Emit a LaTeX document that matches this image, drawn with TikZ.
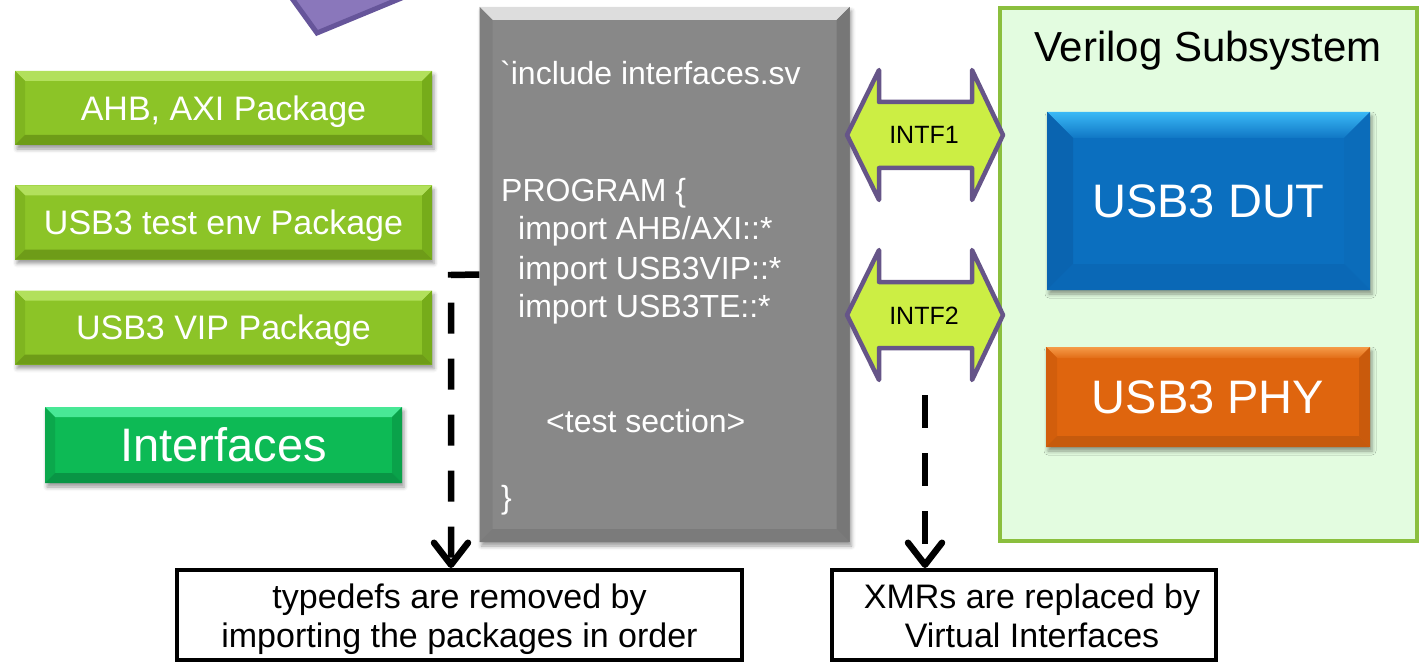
\documentclass[tikz,border=0pt]{standalone}
\usepackage{fontspec}
\newfontfamily\arial{Liberation Sans}
\usetikzlibrary{calc,arrows.meta,shadows.blur}

% palette
\definecolor{pkgBody}{HTML}{8CC427}
\definecolor{pkgTop}{HTML}{B2E05C}
\definecolor{pkgLeft}{HTML}{7FB520}
\definecolor{pkgRight}{HTML}{76AC1A}
\definecolor{pkgBottom}{HTML}{6E9C18}
\definecolor{ifBody}{HTML}{0DBA55}
\definecolor{ifTop}{HTML}{48E896}
\definecolor{ifLeft}{HTML}{0BA84C}
\definecolor{ifRight}{HTML}{0AA24A}
\definecolor{ifBottom}{HTML}{099545}
\definecolor{greyBody}{HTML}{888888}
\definecolor{greyTop}{HTML}{DDDDDD}
\definecolor{greyLeft}{HTML}{7F7F7F}
\definecolor{greyRight}{HTML}{777777}
\definecolor{greyBottom}{HTML}{7B7B7B}
\definecolor{dutBody}{HTML}{0B6FBF}
\definecolor{dutTop}{HTML}{3AB9F6}
\definecolor{dutLeft}{HTML}{0A64B0}
\definecolor{dutRight}{HTML}{0B6CBA}
\definecolor{dutBottom}{HTML}{0A68B6}
\definecolor{phyBody}{HTML}{DF650E}
\definecolor{phyTop}{HTML}{F59B48}
\definecolor{phyLeft}{HTML}{D25E0C}
\definecolor{phyRight}{HTML}{C95A0C}
\definecolor{phyBottom}{HTML}{C65A0D}
\definecolor{verFill}{HTML}{E3FCE0}
\definecolor{verEdge}{HTML}{8BBF3E}
\definecolor{intfFill}{HTML}{CCEE44}
\definecolor{intfEdge}{HTML}{665588}
\definecolor{purpleBody}{HTML}{8A77BB}
\definecolor{purpleEdge}{HTML}{66559A}

% bevelled edges painted inside a node: width, then top/left/right/bottom fill options
\newcommand\bevelpaint[5]{%
  \path (path picture bounding box.south west) coordinate (bvSW)
        (path picture bounding box.north east) coordinate (bvNE)
        (bvSW|-bvNE) coordinate (bvNW)
        (bvNE|-bvSW) coordinate (bvSE);
  \path[#2] (bvNW) -- (bvNE) -- ($(bvNE)+(-#1,-#1)$) -- ($(bvNW)+(#1,-#1)$) -- cycle;
  \path[#3] (bvNW) -- (bvSW) -- ($(bvSW)+(#1,#1)$) -- ($(bvNW)+(#1,-#1)$) -- cycle;
  \path[#4] (bvNE) -- (bvSE) -- ($(bvSE)+(-#1,#1)$) -- ($(bvNE)+(-#1,-#1)$) -- cycle;
  \path[#5] (bvSW) -- (bvSE) -- ($(bvSE)+(-#1,#1)$) -- ($(bvSW)+(#1,#1)$) -- cycle;
}

\tikzset{
  softshadow/.style={blur shadow={shadow xshift=2pt, shadow yshift=-4pt,
      shadow blur radius=4pt, shadow opacity=40}},
  slab/.style={rectangle, inner sep=0pt, softshadow, text=white},
  pkg/.style={slab, fill=pkgBody, minimum width=417pt, minimum height=74pt,
      text height=24.5pt, text depth=0pt,
      font=\arial\fontsize{34pt}{40pt}\selectfont,
      path picture={\bevelpaint{10pt}{fill=pkgTop}{fill=pkgLeft}{fill=pkgRight}{fill=pkgBottom}}},
  ifbox/.style={slab, fill=ifBody, minimum width=357pt, minimum height=76pt,
      font=\arial\fontsize{47pt}{54pt}\selectfont,
      path picture={\bevelpaint{10pt}{fill=ifTop}{fill=ifLeft}{fill=ifRight}{fill=ifBottom}}},
  progbox/.style={slab, fill=greyBody, minimum width=370pt, minimum height=535pt,
      path picture={\bevelpaint{13pt}{fill=greyTop}{fill=greyLeft}{fill=greyRight}{fill=greyBottom}}},
  code/.style={anchor=base west, inner sep=0pt, text=white,
      font=\arial\fontsize{32pt}{38pt}\selectfont},
  subsys/.style={rectangle, draw=verEdge, line width=4pt, fill=verFill,
      minimum width=417pt, minimum height=533pt},
  dut/.style={slab, fill=dutBody, minimum width=323pt, minimum height=178pt,
      font=\arial\fontsize{47pt}{54pt}\selectfont,
      path picture={\bevelpaint{26pt}{top color=dutTop,bottom color=dutBody!90!dutTop}{fill=dutLeft}{fill=dutRight}{fill=dutBottom}}},
  phy/.style={slab, fill=phyBody, minimum width=324pt, minimum height=100pt,
      font=\arial\fontsize{47pt}{54pt}\selectfont,
      path picture={\bevelpaint{11pt}{top color=phyTop,bottom color=phyBody!85!phyTop}{fill=phyLeft}{fill=phyRight}{fill=phyBottom}}},
  note/.style={rectangle, draw=black, line width=4pt, fill=white, align=center,
      minimum height=90pt, inner sep=0pt,
      font=\arial\fontsize{34pt}{39pt}\selectfont},
  notetext/.style={anchor=base, inner sep=0pt, align=center,
      font=\arial\fontsize{34pt}{39pt}\selectfont},
  intflabel/.style={inner sep=0pt, font=\arial\fontsize{25pt}{30pt}\selectfont},
  intfshape/.pic={
    \draw[fill=intfFill, draw=intfEdge, line width=4.5pt, line join=round]
      (-78,0) -- (-46,-65) -- (-46,-33) -- (47,-33) -- (47,-65) -- (78,0)
      -- (47,65) -- (47,33) -- (-46,33) -- (-46,65) -- cycle;
  },
  conn/.style={line width=6.5pt, dash pattern=on 31pt off 25pt,
      -{Straight Barb[length=22pt,width=34pt,line cap=round,line join=round]}},
}

\begin{document}
\begin{tikzpicture}[x=1pt, y=-1pt]
\useasboundingbox (0,0) rectangle (1421,663);

% corner of a tilted purple slab poking in from the top edge
\begin{scope}
  \clip (0,0) rectangle (1421,663);
  \filldraw[fill=purpleBody, draw=purpleEdge, line width=5pt, line join=miter]
    (262,-43) -- (317,33) -- (450,-22) -- (400,-100) -- cycle;
\end{scope}

% packages on the left
\node[pkg] (ahb)  at (223.5,108)   {AHB, AXI Package};
\node[pkg] (tenv) at (223.5,222.5) {USB3 test env Package};
\node[pkg] (vip)  at (223.5,327.5) {USB3 VIP Package};
\node[ifbox] (ifs) at (223.5,445)  {Interfaces};

% Verilog subsystem
\node[subsys] (ver) at (1208.5,274.5) {};
\node[anchor=base, inner sep=0pt, font=\arial\fontsize{42pt}{48pt}\selectfont]
  (vertitle) at (1208,62) {Verilog Subsystem};
\node[dut] (dutbox) at (1208.5,201) {USB3 DUT};
\node[phy] (phybox) at (1208,397)   {USB3 PHY};

% program block
\node[progbox] (prog) at (664.5,274.5) {};
\node[code] (inc)  at (500,85)  {`include interfaces.sv};
\node[code] (pgm)  at (501,202) {PROGRAM \{};
\node[code] (imp1) at (518,240) {import AHB/AXI::*};
\node[code] (imp2) at (518,279) {import USB3VIP::*};
\node[code] (imp3) at (518,317) {import USB3TE::*};
\node[code] (tsec) at (546,432) {<test section>};
\node[code] (cls)  at (501,508) {\}};

% interface arrows between program and subsystem
\pic at (925,135) {intfshape};
\node[intflabel] (intf1) at (924,135) {INTF1};
\pic at (925,315) {intfshape};
\node[intflabel] (intf2) at (924,316) {INTF2};

% notes
\node[note, minimum width=565pt] (note1) at (459.5,615) {};
\node[notetext] (note1a) at (459.5,608) {typedefs are removed by};
\node[notetext] (note1b) at (459.5,647) {importing the packages in order};
\node[note, minimum width=384pt] (note2) at (1024,615) {};
\node[notetext] (note2a) at (1032,608) {XMRs are replaced by};
\node[notetext] (note2b) at (1032,647) {Virtual Interfaces};

% connectors
\coordinate (bend1) at (451,275);
\draw[conn] (prog.west) -- (bend1) -- (bend1 |- note1.north);
\coordinate (xmrtop) at (925,395);
\draw[conn, dash pattern=on 33pt off 25pt] (xmrtop) -- (xmrtop |- note2.north);
\end{tikzpicture}
\end{document}
